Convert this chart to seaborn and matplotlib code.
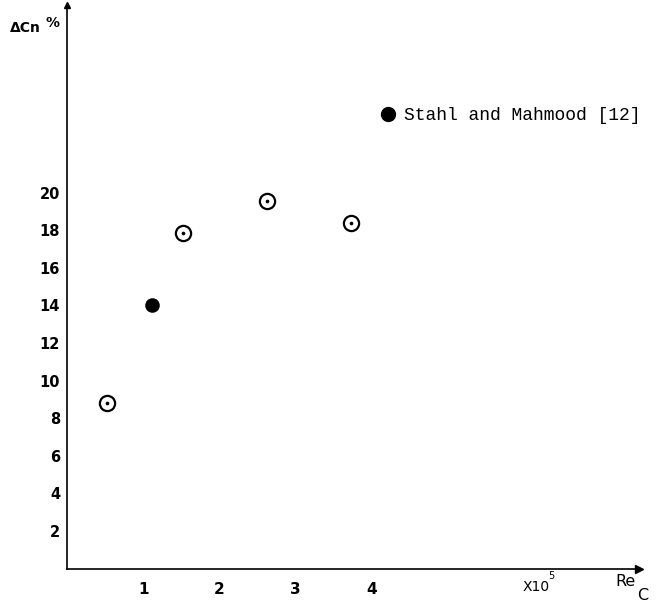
import matplotlib
matplotlib.use("Agg")
import matplotlib.pyplot as plt
import seaborn as sns
import pandas as pd
from matplotlib.lines import Line2D

# ---- data ----
present_re = [0.52, 1.52, 2.62, 3.73]
present_dcn = [8.8, 17.85, 19.55, 18.4]
stahl_re = [1.12]
stahl_dcn = [14.0]
xticks = [1, 2, 3, 4]
xticklabels = ["1", "2", "3", "4"]
yticks = [2, 4, 6, 8, 10, 12, 14, 16, 18, 20]
yticklabels = ["2", "4", "6", "8", "10", "12", "14", "16", "18", "20"]
legend_label = "Stahl and Mahmood [12]"

sns.set_style("white")
plt.rcParams["font.family"] = ["DejaVu Sans"]
plt.rcParams["text.color"] = "black"
plt.rcParams["xtick.labelcolor"] = "black"
plt.rcParams["ytick.labelcolor"] = "black"

W, H = 672, 604
fig = plt.figure(figsize=(W / 100, H / 100), dpi=100)
left, bottom = 67 / W, (H - 568.6) / H
ax = fig.add_axes([left, bottom, 571.5 / W, 564 / H])

df_p = pd.DataFrame({"Re": present_re, "dCn": present_dcn})
df_s = pd.DataFrame({"Re": stahl_re, "dCn": stahl_dcn})

sns.scatterplot(data=df_p, x="Re", y="dCn", ax=ax, marker="o", s=120,
                facecolor="white", edgecolor="black", linewidth=1.6, zorder=3)
sns.scatterplot(data=df_p, x="Re", y="dCn", ax=ax, marker="o", s=7,
                color="black", edgecolor="black", linewidth=0, zorder=4)
sns.scatterplot(data=df_s, x="Re", y="dCn", ax=ax, marker="o", s=110,
                color="black", edgecolor="black", linewidth=0, zorder=3)

ax.set_xlim(0, 7.5)
ax.set_ylim(0, 30)
ax.set_xlabel("")
ax.set_ylabel("")
ax.set_xticks(xticks)
ax.set_xticklabels(xticklabels, fontsize=11, fontweight="bold", color="black")
ax.set_yticks(yticks)
ax.set_yticklabels(yticklabels, fontsize=10.5, fontweight="bold", color="black")
ax.tick_params(axis="both", direction="in", length=4.5, width=1.1, color="black")
ax.tick_params(axis="x", pad=10)
ax.tick_params(axis="y", pad=5)

for s in ["top", "right"]:
    ax.spines[s].set_visible(False)
for s in ["left", "bottom"]:
    ax.spines[s].set_color("black")
    ax.spines[s].set_linewidth(1.2)

# arrow heads on axes
ax.plot([1], [0], marker=">", color="black", markersize=6,
        transform=ax.transAxes, clip_on=False)
ax.plot([0], [1], marker="^", color="black", markersize=4,
        transform=ax.transAxes, clip_on=False)

# legend
handle = Line2D([], [], marker="o", color="black", linestyle="", markersize=10)
ax.legend(handles=[handle], labels=[legend_label], frameon=False,
          prop={"family": "Liberation Mono", "size": 13},
          loc="center left", bbox_to_anchor=(0.546, 0.8025),
          handlelength=1.0, handletextpad=0.4, borderpad=0, borderaxespad=0)

# axis annotations
fig.text(10 / W, 1 - 28 / H, "ΔCn", fontsize=10, fontweight="bold",
         ha="left", va="center")
fig.text(45 / W, 1 - 23 / H, "%", fontsize=10, fontweight="bold",
         ha="left", va="center")
fig.text(523 / W, 1 - 587 / H, "X10", fontsize=10, ha="left", va="center")
fig.text(548 / W, 1 - 576 / H, "5", fontsize=7, ha="left", va="center")
fig.text(615 / W, 1 - 581 / H, "Re", fontsize=11.5, ha="left", va="center")
fig.text(637 / W, 1 - 595 / H, "C", fontsize=11.5, ha="left", va="center")

fig.savefig("out.png", dpi=100)
